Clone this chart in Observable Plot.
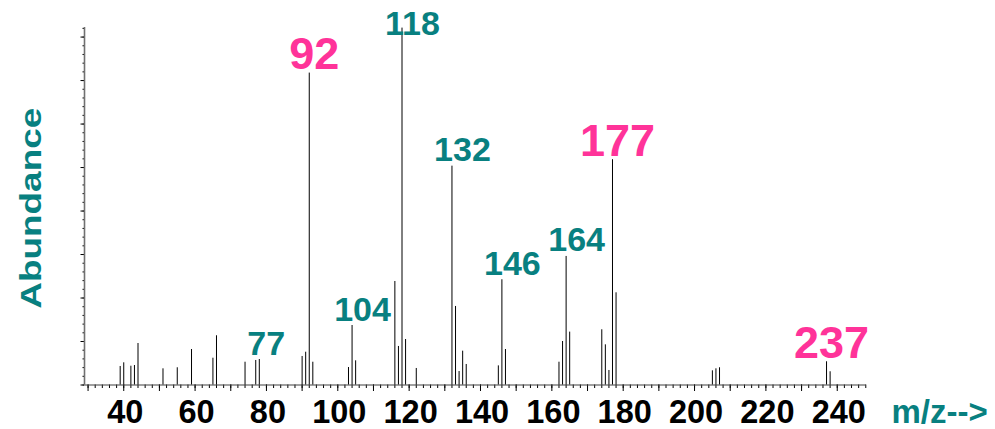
<!DOCTYPE html>
<html><head><meta charset="utf-8">
<script src="https://cdn.jsdelivr.net/npm/d3@7"></script>
<script src="https://cdn.jsdelivr.net/npm/@observablehq/plot@0.6"></script>
<style>html,body{margin:0;padding:0;background:#fff} #chart svg{display:block}</style>
</head><body><div id="chart"></div>
<script>
// Peak m/z values and their abundances
const mz = [39,40,42,43,44,51,55,59,65,66,74,77,78,90,91,92,93,103,104,105,116,117,118,119,122,132,133,134,135,136,145,146,147,162,163,164,165,174,175,176,177,178,205,206,207,237,238];
const abundance = [2130,2550,2160,2240,4770,1860,1980,4080,3080,5660,2620,2820,2930,3280,3770,35860,2620,2010,6840,2780,11900,4430,41030,5230,1900,25160,9030,1550,3890,2360,2200,12100,4080,2620,5000,14780,6080,6350,4620,1670,25900,10600,1630,1860,1980,2670,1520];

// Annotated peaks
const labelMz = [77,92,104,118,132,146,164,177,237];
const labelKind = ["fragment","key","fragment","fragment","fragment","fragment","fragment","key","key"];

// Axis tick labels
const xTickLabels = [40,60,80,100,120,140,160,180,200,220,240];
const xTitle = "m/z-->";
const yTitle = "Abundance";

const TEAL = "#088080", PINK = "#ff3399";
const peaks = mz.map((m, i) => ({mz: m, abundance: abundance[i]}));
const labels = labelMz.map((m, i) => ({
  mz: m, text: String(m), kind: labelKind[i],
  abundance: peaks.find(p => p.mz === m).abundance
}));
const yLabelCap = 39700;

const svg = Plot.plot({
  width: 995, height: 429,
  marginLeft: 84, marginRight: 129, marginTop: 27, marginBottom: 44.5,
  x: {domain: [29, 248.2], axis: null, label: null},
  y: {domain: [0, 41100], axis: null, label: null},
  style: {fontFamily: "'Liberation Sans', Arial, sans-serif", fontWeight: "bold", background: "white", overflow: "visible"},
  marks: [
    Plot.axisY({ticks: d3.range(0, 41001, 1000), tickSize: 1.5, fill: "none", label: null}),
    Plot.axisY({ticks: d3.range(0, 41001, 5000), tickSize: 3.5, fill: "none", label: null}),
    Plot.axisX({ticks: d3.range(30, 249, 2), tickSize: 3.5, fill: "none", label: null}),
    Plot.axisX({ticks: d3.range(30, 249, 10), tickSize: 6.5, fill: "none", label: null}),
    Plot.axisX({ticks: xTickLabels, tickSize: 0, tickPadding: 14.5, fontSize: 32.5, fill: "black", label: null, dx: 1.5}),
    Plot.ruleX([29], {stroke: "#707070", strokeWidth: 1.6}),
    Plot.ruleY([0], {stroke: "#404040", strokeWidth: 1.2}),
    Plot.ruleX(peaks, {x: "mz", y1: 0, y2: "abundance", stroke: "black", strokeWidth: 1}),
    Plot.text(labels.filter(d => d.kind === "fragment"), {
      x: "mz", y: d => Math.min(d.abundance, yLabelCap), text: "text",
      fill: TEAL, fontSize: 34, lineAnchor: "bottom", dx: 10.5, dy: -5
    }),
    Plot.text(labels.filter(d => d.kind === "key"), {
      x: "mz", y: d => Math.min(d.abundance, yLabelCap), text: "text",
      fill: PINK, fontSize: 45, lineAnchor: "bottom", dx: 5, dy: -4
    }),
    Plot.text([xTitle], {
      text: d => d, frameAnchor: "bottom-right", textAnchor: "start", lineAnchor: "bottom",
      dx: 25, dy: 37.5, fill: TEAL, fontSize: 33
    }),
    Plot.text([yTitle], {
      text: d => d, frameAnchor: "left", rotate: -90, textAnchor: "middle", lineAnchor: "middle",
      dx: -53, dy: 2, fill: TEAL, fontSize: 30
    })
  ]
});

d3.select(svg).selectAll("text")
  .filter(function() { return this.textContent === yTitle; })
  .attr("textLength", 201)
  .attr("lengthAdjust", "spacingAndGlyphs");

document.getElementById("chart").appendChild(svg);
</script>
</body></html>
